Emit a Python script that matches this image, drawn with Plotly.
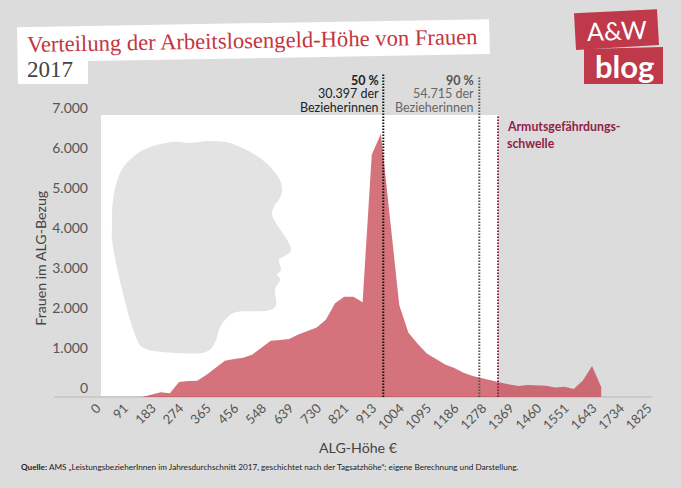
import plotly.graph_objects as go

# ---- data ----
amount_eur = [136.8, 167.2, 197.6, 228.0, 258.4, 288.8, 319.2, 349.6, 380.0, 410.4, 440.8,
              471.2, 501.6, 532.0, 562.4, 592.8, 623.2, 653.6, 684.0, 714.4, 744.8, 775.2,
              805.6, 836.0, 866.4, 896.8, 927.2, 957.6, 988.0, 1018.4, 1048.8, 1079.2,
              1109.6, 1140.0, 1170.4, 1200.8, 1231.2, 1261.6, 1292.0, 1322.4, 1352.8,
              1383.2, 1413.6, 1444.0, 1474.4, 1504.8, 1535.2, 1565.6, 1596.0, 1626.4, 1656.8]
women = [0, 67, 117, 92, 375, 400, 408, 558, 725, 908, 950, 983, 1066, 1233, 1408, 1425,
         1450, 1566, 1650, 1741, 1933, 2349, 2508, 2508, 2375, 6068, 6592, 4440, 2300,
         1608, 1333, 1091, 958, 816, 725, 608, 525, 466, 416, 366, 316, 275, 300, 283,
         283, 241, 258, 200, 416, 775, 250]
x_ticks = [0, 91, 183, 274, 365, 456, 548, 639, 730, 821, 913, 1004, 1095, 1186, 1278,
           1369, 1460, 1551, 1643, 1734, 1825]
y_ticks = [0, 1000, 2000, 3000, 4000, 5000, 6000, 7000]
y_tick_labels = ["0", "1.000", "2.000", "3.000", "4.000", "5.000", "6.000", "7.000"]
median_x = 935
p90_x = 1253
poverty_x = 1315
title_main = "Verteilung der Arbeitslosengeld-Höhe von Frauen"
title_year = "2017"

# ---- layout geometry (pixels) ----
W, H = 681, 488
L, R, T, B = 101, 652, 115, 397.5
SANS = "Lato"
BG = "#dcdcdc"
RED = "#c0394a"


def px(x):
    return (x - L) / (R - L)


def py(y):
    return (B - y) / (B - T)


def poly(points):
    return "M" + " L".join(f"{px(a):.5f},{py(b):.5f}" for a, b in points) + " Z"


def smooth(points):
    n = len(points)
    d = f"M{px(points[0][0]):.5f},{py(points[0][1]):.5f}"
    for i in range(n):
        p0, p1, p2, p3 = points[i - 1], points[i], points[(i + 1) % n], points[(i + 2) % n]
        c1 = (p1[0] + (p2[0] - p0[0]) / 6, p1[1] + (p2[1] - p0[1]) / 6)
        c2 = (p2[0] - (p3[0] - p1[0]) / 6, p2[1] - (p3[1] - p1[1]) / 6)
        d += (f" C{px(c1[0]):.5f},{py(c1[1]):.5f} {px(c2[0]):.5f},{py(c2[1]):.5f}"
              f" {px(p2[0]):.5f},{py(p2[1]):.5f}")
    return d + " Z"


head_outline = [(190, 143), (210, 141), (233, 144), (260, 158), (277, 175), (282, 188),
                (280, 198), (274, 207), (273, 218), (287, 240), (291, 250), (287, 255),
                (279, 260), (281, 270), (277, 275), (280, 280), (275, 290), (276, 305),
                (267, 311), (238, 312), (227, 318), (220, 328), (215, 343), (207, 352),
                (190, 354), (157, 352), (143, 348), (137, 340), (128, 313), (117, 268),
                (112, 240), (112, 227), (113, 200), (120, 173), (133, 157), (150, 147),
                (173, 142)]


def deco(path, color, layer="below"):
    return dict(type="path", xref="paper", yref="paper", path=path, fillcolor=color,
                line=dict(width=0), layer=layer)


def vline(x, top, color, width=2):
    return dict(type="line", xref="x", yref="paper", x0=x, x1=x, y0=0, y1=py(top),
                line=dict(color=color, width=width, dash="1.5px,1.5px"), layer="above")


shapes = [
    deco(poly([(L, T), (498, T), (498, B), (L, B)]), "#ffffff"),
    deco(smooth(head_outline), "#e3e3e3"),
    deco(poly([(17, 27), (489, 19), (490, 54), (88, 61), (88, 84), (18, 84)]), "#ffffff"),
    deco(poly([(574, 13), (657, 9), (659, 45), (576, 50)]), RED),
    deco(poly([(584, 49), (663, 47), (663, 84), (584, 84)]), RED),
    dict(type="line", xref="paper", yref="paper", x0=px(54), x1=1, y0=0, y1=0,
         line=dict(color="#cacaca", width=2), layer="below"),
    vline(median_x, 73, "#111111"),
    vline(p90_x, 76, "#555555"),
    vline(poverty_x, 115, "#8f2346"),
]


def note(x, y, text, size=13, color="#333333", anchor="right", family=SANS, angle=0):
    return dict(xref="paper", yref="paper", x=px(x), y=py(y), text=text, showarrow=False,
                xanchor=anchor, yanchor="middle", textangle=angle, borderpad=0,
                font=dict(family=family, size=size, color=color))


annotations = [
    note(26, 40, title_main, 22.6, "#c5353f", "left", "Liberation Serif", -1),
    note(26, 69, title_year, 23, "#444444", "left", "Liberation Serif"),
    note(380, 80, "<b>50 %</b>", 12.5, "#222222"),
    note(380, 93.5, "30.397 der", 12.5, "#222222"),
    note(380, 107, "Bezieherinnen", 12.5, "#222222"),
    note(475, 80, "<b>90 %</b>", 12.5, "#555555"),
    note(475, 93.5, "54.715 der", 12.5, "#666666"),
    note(475, 107, "Bezieherinnen", 12.5, "#666666"),
    note(506, 127, "<b>Armutsgefährdungs-</b>", 12.3, "#8f2346", "left"),
    note(506, 144, "<b>schwelle</b>", 12.3, "#8f2346", "left"),
    note(617, 30, "A&amp;W", 25, "#ffffff", "center", "Lato", -2),
    note(624, 66, "<b>blog</b>", 31, "#ffffff", "center", "Lato"),
    note(358, 448, "ALG-Höhe €", 14.2, "#444444", "center"),
    note(41, 258, "Frauen im ALG-Bezug", 14.2, "#444444", "center", SANS, -90),
    note(20, 468, "<b>Quelle:</b> AMS „LeistungsbezieherInnen im Jahresdurchschnitt 2017, "
         "geschichtet nach der Tagsatzhöhe“; eigene Berechnung und Darstellung.",
         8.2, "#222222", "left"),
]

fig = go.Figure(go.Scatter(x=amount_eur, y=women, mode="lines", fill="tozeroy",
                           fillcolor="rgba(197,68,79,0.75)", line=dict(width=0),
                           hoverinfo="x+y", showlegend=False))
fig.update_layout(
    width=W, height=H, autosize=False,
    margin=dict(l=L, r=W - R, t=T, b=H - B, autoexpand=False),
    paper_bgcolor=BG, plot_bgcolor="rgba(0,0,0,0)",
    font=dict(family=SANS, color="#555555"),
    shapes=shapes, annotations=annotations, showlegend=False,
    xaxis=dict(range=[0, 1825], tickmode="array", tickvals=x_ticks,
               ticktext=[str(v) for v in x_ticks], tickangle=-45, showgrid=False,
               zeroline=False, showline=False, ticks="", ticklabelshift=-4,
               tickfont=dict(size=13, color="#555555")),
    yaxis=dict(range=[0, 7062.5], tickmode="array", tickvals=y_ticks, ticktext=y_tick_labels,
               showgrid=False, zeroline=False, showline=False, ticks="",
               tickfont=dict(size=14, color="#555555"), ticklabelshift=-9, ticklabelstandoff=12),
)
fig.write_html("out.html", config=dict(displayModeBar=False),
               post_script="document.body.style.margin='0';"
               "document.documentElement.style.background='#dcdcdc';")
